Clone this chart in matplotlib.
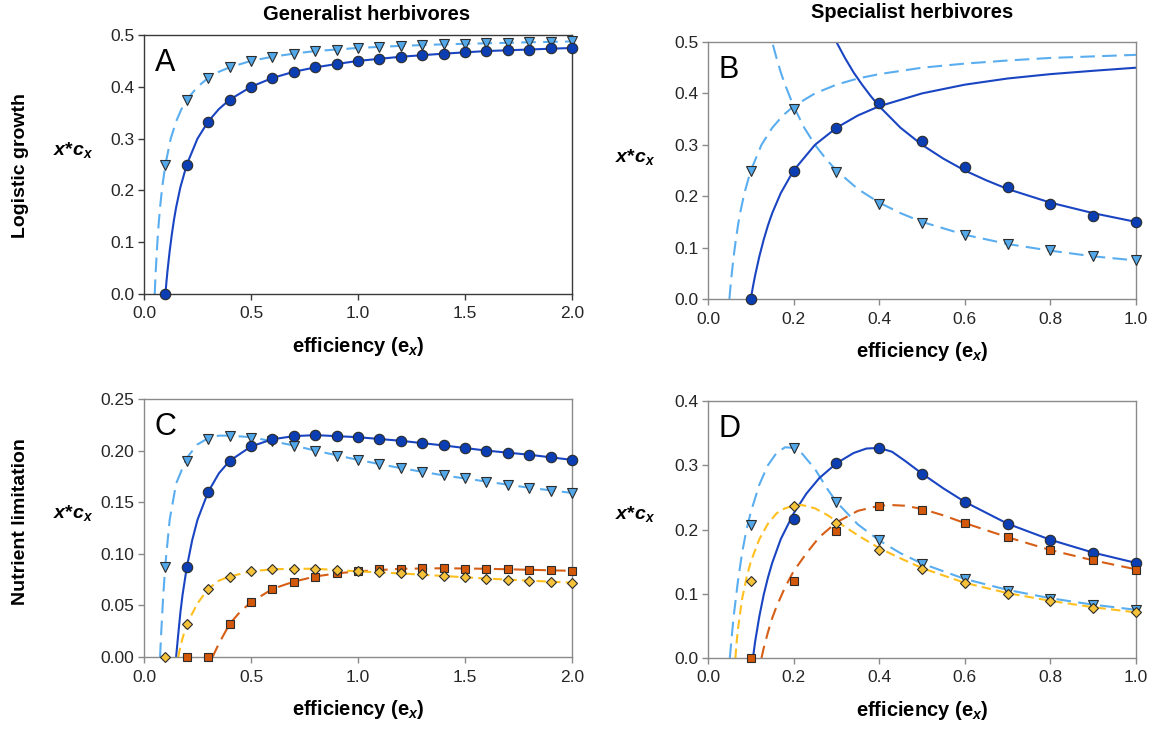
import matplotlib
matplotlib.use("Agg")
import matplotlib.pyplot as plt
from matplotlib.ticker import FormatStrFormatter

plt.rcParams['font.family'] = ['Liberation Sans', 'DejaVu Sans']
plt.rcParams['mathtext.fontset'] = 'custom'
plt.rcParams['mathtext.it'] = 'Liberation Sans:italic:bold'
plt.rcParams['mathtext.rm'] = 'Liberation Sans:bold'
plt.rcParams['mathtext.bf'] = 'Liberation Sans:bold'

# ---- marker data (efficiency values) ----
ex_gen = [0.1, 0.2, 0.3, 0.4, 0.5, 0.6, 0.7, 0.8, 0.9, 1.0,
          1.1, 1.2, 1.3, 1.4, 1.5, 1.6, 1.7, 1.8, 1.9, 2.0]
ex_spec = [0.1, 0.2, 0.3, 0.4, 0.5, 0.6, 0.7, 0.8, 0.9, 1.0]

# A: generalist, logistic growth
a_dark = [0.0, 0.25, 0.333, 0.375, 0.4, 0.417, 0.429, 0.4375, 0.444, 0.45,
          0.4545, 0.458, 0.4615, 0.464, 0.467, 0.469, 0.471, 0.472, 0.474, 0.475]
a_light = [0.25, 0.375, 0.417, 0.4375, 0.45, 0.458, 0.464, 0.469, 0.472, 0.475,
           0.477, 0.479, 0.481, 0.482, 0.483, 0.484, 0.485, 0.486, 0.487, 0.4875]

# B: specialist, logistic growth
b_dark = [0.0, 0.25, 0.333, 0.381, 0.307, 0.257, 0.218, 0.185, 0.162, 0.15]
b_light = [0.25, 0.37, 0.247, 0.185, 0.148, 0.125, 0.107, 0.095, 0.083, 0.075]

# C: generalist, nutrient limitation
c_dark = [0.087, 0.16, 0.19, 0.204, 0.211, 0.214, 0.215, 0.214, 0.213, 0.211,
          0.2095, 0.207, 0.205, 0.2025, 0.2, 0.198, 0.196, 0.194, 0.191]  # from 0.2
c_light = [0.087, 0.19, 0.211, 0.214, 0.212, 0.209, 0.204, 0.2, 0.195, 0.191,
           0.187, 0.183, 0.179, 0.176, 0.173, 0.17, 0.167, 0.164, 0.161, 0.159]
c_yellow = [0.0, 0.032, 0.066, 0.078, 0.083, 0.085, 0.0855, 0.0855, 0.0845, 0.083,
            0.082, 0.081, 0.08, 0.0785, 0.0775, 0.076, 0.075, 0.074, 0.073, 0.072]
c_orange = [0.0, 0.0, 0.032, 0.053, 0.066, 0.073, 0.078, 0.081, 0.083, 0.085,
            0.0855, 0.086, 0.086, 0.0855, 0.0855, 0.085, 0.0845, 0.084, 0.0835]  # from 0.2

# D: specialist, nutrient limitation
d_dark = [0.216, 0.303, 0.327, 0.287, 0.243, 0.209, 0.184, 0.164, 0.148]  # from 0.2
d_light = [0.207, 0.327, 0.243, 0.183, 0.147, 0.123, 0.105, 0.092, 0.082, 0.074]
d_yellow = [0.12, 0.236, 0.21, 0.168, 0.138, 0.116, 0.1, 0.088, 0.078, 0.071]
d_orange = [0.0, 0.12, 0.198, 0.236, 0.231, 0.21, 0.188, 0.168, 0.152, 0.137]

# ---- curves ----
up_dark_x = [0.1, 0.105, 0.11, 0.12, 0.13, 0.14, 0.15, 0.17, 0.2, 0.25, 0.3, 0.35, 0.4,
             0.5, 0.6, 0.7, 0.8, 0.9, 1.0, 1.2, 1.4, 1.6, 1.8, 2.0]
up_dark_y = [0.0, 0.024, 0.0455, 0.083, 0.115, 0.143, 0.167, 0.206, 0.25, 0.3, 0.333, 0.357, 0.375,
             0.4, 0.417, 0.429, 0.4375, 0.444, 0.45, 0.458, 0.464, 0.469, 0.472, 0.475]
up_light_x = [0.05, 0.0525, 0.055, 0.06, 0.065, 0.07, 0.075, 0.085, 0.1, 0.125, 0.15, 0.175, 0.2,
              0.25, 0.3, 0.35, 0.4, 0.5, 0.6, 0.7, 0.8, 0.9, 1.0, 1.2, 1.4, 1.6, 1.8, 2.0]
up_light_y = [0.0, 0.024, 0.045, 0.083, 0.115, 0.143, 0.167, 0.206, 0.25, 0.3, 0.333, 0.357, 0.375,
              0.4, 0.417, 0.429, 0.4375, 0.45, 0.458, 0.464, 0.469, 0.472, 0.475, 0.479, 0.482,
              0.484, 0.486, 0.4875]
down_dark_x = [0.29, 0.3, 0.32, 0.34, 0.36, 0.38, 0.4, 0.45, 0.5, 0.55, 0.6, 0.65, 0.7, 0.8, 0.9, 1.0]
down_dark_y = [0.517, 0.5, 0.469, 0.441, 0.417, 0.395, 0.375, 0.333, 0.3, 0.273, 0.25, 0.231,
               0.214, 0.1875, 0.167, 0.15]
down_light_x = [0.14, 0.15, 0.16, 0.17, 0.18, 0.2, 0.225, 0.25, 0.275, 0.3, 0.35, 0.4, 0.45,
                0.5, 0.6, 0.7, 0.8, 0.9, 1.0]
down_light_y = [0.536, 0.5, 0.469, 0.441, 0.417, 0.375, 0.333, 0.3, 0.273, 0.25, 0.214, 0.1875,
                0.167, 0.15, 0.125, 0.107, 0.094, 0.083, 0.075]

cl_light_x = [0.075, 0.08, 0.09, 0.1, 0.12, 0.15, 0.2, 0.25, 0.3, 0.35, 0.4, 0.5, 0.6, 0.7,
              0.8, 1.0, 1.2, 1.4, 1.6, 1.8, 2.0]
cl_light_y = [0.0, 0.022, 0.06, 0.09, 0.133, 0.168, 0.193, 0.206, 0.212, 0.2145, 0.2145, 0.213,
              0.209, 0.205, 0.2, 0.191, 0.183, 0.176, 0.17, 0.164, 0.159]
cl_dark_x = [0.15, 0.16, 0.17, 0.18, 0.2, 0.225, 0.25, 0.3, 0.35, 0.4, 0.5, 0.6, 0.7, 0.8,
             1.0, 1.2, 1.4, 1.6, 1.8, 2.0]
cl_dark_y = [0.0, 0.022, 0.043, 0.06, 0.087, 0.113, 0.133, 0.16, 0.178, 0.19, 0.204, 0.211,
             0.214, 0.215, 0.213, 0.2095, 0.205, 0.2, 0.196, 0.191]
cl_yel_x = [0.16, 0.17, 0.18, 0.2, 0.25, 0.3, 0.35, 0.4, 0.5, 0.6, 0.7, 0.8, 1.0, 1.2, 1.4,
            1.6, 1.8, 2.0]
cl_yel_y = [0.0, 0.01, 0.018, 0.032, 0.052, 0.066, 0.074, 0.078, 0.083, 0.085, 0.0855, 0.0855,
            0.083, 0.081, 0.0785, 0.076, 0.074, 0.072]
cl_org_x = [0.32, 0.35, 0.4, 0.45, 0.5, 0.6, 0.7, 0.8, 0.9, 1.0, 1.2, 1.4, 1.6, 1.8, 2.0]
cl_org_y = [0.0, 0.013, 0.032, 0.044, 0.053, 0.066, 0.073, 0.078, 0.081, 0.083, 0.0855, 0.086,
            0.0855, 0.0845, 0.0835]

dl_light_x = [0.051, 0.055, 0.06, 0.07, 0.08, 0.09, 0.1, 0.12, 0.14, 0.16, 0.18, 0.2, 0.22,
              0.25, 0.28, 0.3, 0.35, 0.4, 0.45, 0.5, 0.6, 0.7, 0.8, 0.9, 1.0]
dl_light_y = [0.0, 0.03, 0.065, 0.12, 0.165, 0.2, 0.227, 0.27, 0.3, 0.319, 0.328, 0.327, 0.318,
              0.294, 0.262, 0.243, 0.208, 0.183, 0.163, 0.147, 0.123, 0.106, 0.093, 0.083, 0.075]
dl_dark_x = [0.105, 0.11, 0.12, 0.13, 0.14, 0.15, 0.17, 0.2, 0.23, 0.26, 0.3, 0.34, 0.37, 0.4,
             0.43, 0.46, 0.5, 0.55, 0.6, 0.7, 0.8, 0.9, 1.0]
dl_dark_y = [0.0, 0.025, 0.065, 0.098, 0.125, 0.148, 0.185, 0.225, 0.256, 0.28, 0.303, 0.319,
             0.326, 0.327, 0.321, 0.307, 0.287, 0.264, 0.243, 0.209, 0.184, 0.164, 0.148]
dl_yel_x = [0.064, 0.067, 0.07, 0.075, 0.08, 0.09, 0.1, 0.12, 0.14, 0.16, 0.18, 0.2, 0.22, 0.25,
            0.28, 0.3, 0.35, 0.4, 0.45, 0.5, 0.6, 0.7, 0.8, 0.9, 1.0]
dl_yel_y = [0.0, 0.025, 0.045, 0.07, 0.093, 0.125, 0.15, 0.185, 0.209, 0.225, 0.233, 0.237, 0.238,
            0.233, 0.222, 0.213, 0.191, 0.171, 0.155, 0.14, 0.117, 0.101, 0.089, 0.079, 0.071]
dl_org_x = [0.125, 0.13, 0.14, 0.15, 0.16, 0.18, 0.2, 0.23, 0.26, 0.3, 0.35, 0.4, 0.43, 0.46,
            0.5, 0.55, 0.6, 0.7, 0.8, 0.9, 1.0]
dl_org_y = [0.0, 0.015, 0.04, 0.062, 0.08, 0.11, 0.135, 0.163, 0.188, 0.211, 0.229, 0.237, 0.238,
            0.237, 0.232, 0.222, 0.21, 0.188, 0.168, 0.152, 0.138]

# colours
dark_line, dark_fill = '#1a45c2', '#0b3db3'
light_line, light_fill = '#5aaef0', '#52a8e8'
yel_line, yel_fill = '#ffbf1f', '#f5c23a'
org_line, org_fill = '#d65e16', '#d4580a'
edge = '#2b2b2b'

W, H = 1158, 733
fig = plt.figure(figsize=(W / 100, H / 100), dpi=100)


def box(l, t, r, b):
    return [l / W, 1 - b / H, (r - l) / W, (b - t) / H]


def style(ax, xmax, ymax, xstep, ystep, yfmt, spine_col):
    ax.set_xlim(0, xmax)
    ax.set_ylim(0, ymax)
    n = int(round(xmax / xstep))
    ax.set_xticks([i * xstep for i in range(n + 1)])
    m = int(round(ymax / ystep))
    ax.set_yticks([i * ystep for i in range(m + 1)])
    ax.xaxis.set_major_formatter(FormatStrFormatter('%.1f'))
    ax.yaxis.set_major_formatter(FormatStrFormatter(yfmt))
    for s in ax.spines.values():
        s.set_color(spine_col)
        s.set_linewidth(1.0)
    ax.tick_params(direction='out', length=4, width=1.0, color=spine_col,
                   labelsize=12.5, labelcolor='#262626')
    ax.tick_params(axis='x', pad=5)
    ax.tick_params(axis='y', pad=3)


def curve(ax, x, y, col, dash=None, lw=1.5):
    if dash is None:
        ax.plot(x, y, color=col, lw=lw, zorder=2)
    else:
        ax.plot(x, y, color=col, lw=lw, dashes=dash, zorder=2)


def pts(ax, x, y, mk, fill, ms, z=3):
    ax.plot(x, y, ls='none', marker=mk, ms=ms, mfc=fill, mec=edge, mew=0.8,
            clip_on=False, zorder=z)


# ---- A ----
axA = fig.add_axes(box(144, 35, 572, 294))
curve(axA, up_light_x, up_light_y, light_line, (7, 3.5))
curve(axA, up_dark_x, up_dark_y, dark_line)
pts(axA, ex_gen, a_light, 'v', light_fill, 6.8)
pts(axA, ex_gen, a_dark, 'o', dark_fill, 7.5)
style(axA, 2.0, 0.5, 0.5, 0.1, '%.1f', '#3a3a3a')

# ---- B ----
axB = fig.add_axes(box(708, 42, 1136, 299))
curve(axB, up_light_x, up_light_y, light_line, (7, 3.5))
curve(axB, down_light_x, down_light_y, light_line, (7, 3.5))
curve(axB, up_dark_x, up_dark_y, dark_line)
curve(axB, down_dark_x, down_dark_y, dark_line)
pts(axB, ex_spec, b_light, 'v', light_fill, 6.8)
pts(axB, ex_spec, b_dark, 'o', dark_fill, 7.5)
style(axB, 1.0, 0.5, 0.2, 0.1, '%.1f', '#8a8a8a')

# ---- C ----
axC = fig.add_axes(box(144, 399, 572, 657))
curve(axC, cl_light_x, cl_light_y, light_line, (7, 3.5))
curve(axC, cl_dark_x, cl_dark_y, dark_line)
curve(axC, cl_org_x, cl_org_y, org_line, (6, 3.5))
curve(axC, cl_yel_x, cl_yel_y, yel_line, (4.5, 2.5))
pts(axC, ex_gen, c_light, 'v', light_fill, 6.8)
pts(axC, ex_gen[1:], c_dark, 'o', dark_fill, 7.5)
pts(axC, ex_gen[1:], c_orange, 's', org_fill, 5.8, 4)
pts(axC, ex_gen, c_yellow, 'D', yel_fill, 5.0, 5)
style(axC, 2.0, 0.25, 0.5, 0.05, '%.2f', '#8a8a8a')

# ---- D ----
axD = fig.add_axes(box(708, 401, 1136, 658))
curve(axD, dl_light_x, dl_light_y, light_line, (7, 3.5))
curve(axD, dl_dark_x, dl_dark_y, dark_line)
curve(axD, dl_org_x, dl_org_y, org_line, (6, 3.5))
curve(axD, dl_yel_x, dl_yel_y, yel_line, (4.5, 2.5))
pts(axD, ex_spec, d_light, 'v', light_fill, 6.8)
pts(axD, ex_spec[1:], d_dark, 'o', dark_fill, 7.5)
pts(axD, ex_spec, d_orange, 's', org_fill, 5.8, 4)
pts(axD, ex_spec, d_yellow, 'D', yel_fill, 5.0, 5)
style(axD, 1.0, 0.4, 0.2, 0.1, '%.1f', '#8a8a8a')

# panel letters
for ax, letter in [(axA, 'A'), (axB, 'B'), (axC, 'C'), (axD, 'D')]:
    ax.text(0.025, 0.95, letter, transform=ax.transAxes, fontsize=22,
            va='top', ha='left', color='black')

# axis labels
for ax in [axA, axB, axC, axD]:
    ax.set_xlabel(r'efficiency (e$_{x}$)', fontsize=14.5, fontweight='bold', labelpad=10)

ylab = r'$x$*$c_x$'
fig.text(73 / W, 1 - 150 / H, ylab, fontsize=14, fontweight='bold', ha='center', va='center')
fig.text(635 / W, 1 - 157 / H, ylab, fontsize=14, fontweight='bold', ha='center', va='center')
fig.text(73 / W, 1 - 513 / H, ylab, fontsize=14, fontweight='bold', ha='center', va='center')
fig.text(635 / W, 1 - 514 / H, ylab, fontsize=14, fontweight='bold', ha='center', va='center')

fig.text(21 / W, 1 - 166 / H, 'Logistic growth', rotation=90, fontsize=14,
         fontweight='bold', ha='center', va='center')
fig.text(21 / W, 1 - 522 / H, 'Nutrient limitation', rotation=90, fontsize=14,
         fontweight='bold', ha='center', va='center')

fig.text(367 / W, 1 - 15 / H, 'Generalist herbivores', fontsize=14.5,
         fontweight='bold', ha='center', va='center')
fig.text(912 / W, 1 - 12 / H, 'Specialist herbivores', fontsize=14.5,
         fontweight='bold', ha='center', va='center')

fig.savefig('out.png', dpi=100)
